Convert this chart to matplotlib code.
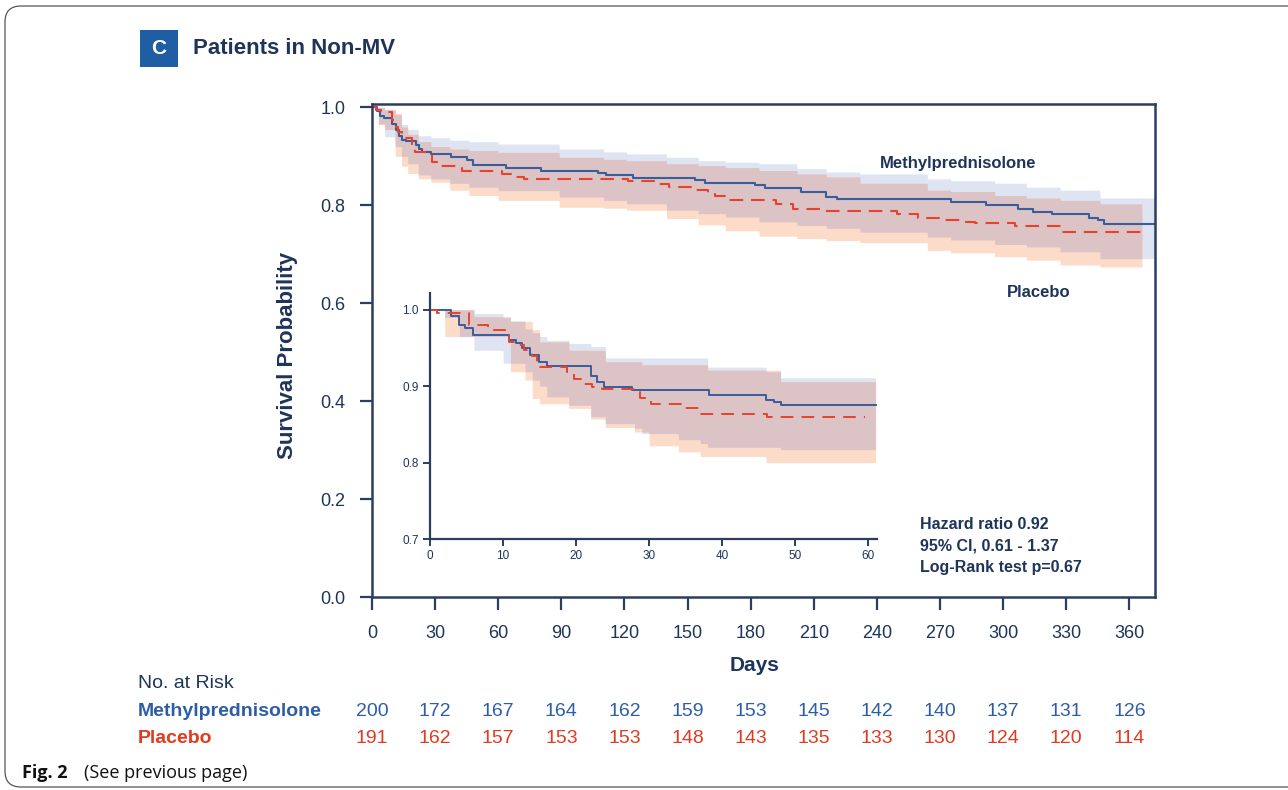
import numpy as np
import matplotlib

matplotlib.use("Agg")

import matplotlib.pyplot as plt
from matplotlib.patches import FancyBboxPatch, Rectangle
from matplotlib.transforms import blended_transform_factory

plt.rcParams["font.family"] = ["Liberation Sans", "DejaVu Sans"]

# ---- main panel: Kaplan-Meier steps ----
mp_days = [0, 2.5, 3.7, 5.7, 9.7, 11.3, 12.9, 14.1, 16.0, 20.8, 22.4, 24.0, 27.9, 37.5,
           45.4, 47.8, 63.7, 80.3, 107.3, 111.3, 124.0, 153.3, 158.1, 181.9, 186.7,
           204, 216, 221, 275, 292, 307, 314, 323, 341, 345, 348]
mp_surv = [1.0, 0.993, 0.983, 0.978, 0.966, 0.953, 0.942, 0.934, 0.931, 0.924, 0.915,
           0.909, 0.904, 0.898, 0.892, 0.883, 0.877, 0.871, 0.866, 0.861, 0.856, 0.851,
           0.845, 0.841, 0.835, 0.827, 0.818, 0.812, 0.807, 0.800, 0.793, 0.786, 0.782,
           0.775, 0.770, 0.761]
mp_last_day = 372

pl_days = [0, 2.0, 4.5, 9.7, 10.5, 12.5, 14.5, 19.2, 20.5, 28.4, 33, 43, 62, 67, 72.4,
           121.5, 135, 141.4, 152.5, 159.7, 163, 168.4, 192.2, 200, 215, 249.4, 259.7,
           270.8, 281.9, 286.7, 305.7, 328]
pl_surv = [1.0, 0.995, 0.99, 0.975, 0.96, 0.95, 0.938, 0.922, 0.909, 0.888, 0.881, 0.870,
           0.863, 0.857, 0.854, 0.849, 0.844, 0.837, 0.831, 0.824, 0.820, 0.810, 0.803,
           0.793, 0.788, 0.782, 0.774, 0.769, 0.766, 0.763, 0.757, 0.746]
pl_last_day = 366

ci_days = [0, 3, 6, 11, 14, 17, 22, 28, 37, 46, 60, 89, 110, 121, 140, 155, 168, 184,
           202, 216, 232, 264, 275, 296, 311, 327, 346]
mp_ci_hi = [1.0, 1.0, 0.995, 0.985, 0.965, 0.955, 0.942, 0.938, 0.933, 0.93, 0.925, 0.915,
            0.909, 0.905, 0.898, 0.891, 0.888, 0.885, 0.875, 0.868, 0.864, 0.854, 0.85,
            0.845, 0.837, 0.831, 0.815]
mp_ci_lo = [1.0, 0.965, 0.94, 0.92, 0.9, 0.885, 0.862, 0.854, 0.845, 0.837, 0.83, 0.817,
            0.81, 0.803, 0.79, 0.783, 0.776, 0.766, 0.759, 0.753, 0.745, 0.735, 0.729,
            0.72, 0.715, 0.705, 0.691]
pl_ci_hi = [1.0, 1.0, 0.995, 0.988, 0.96, 0.945, 0.93, 0.92, 0.915, 0.912, 0.908, 0.898,
            0.894, 0.891, 0.885, 0.881, 0.877, 0.871, 0.864, 0.858, 0.845, 0.831, 0.828,
            0.82, 0.815, 0.81, 0.803]
pl_ci_lo = [1.0, 0.966, 0.955, 0.9, 0.88, 0.865, 0.854, 0.847, 0.831, 0.82, 0.81, 0.796,
            0.794, 0.79, 0.773, 0.76, 0.748, 0.737, 0.732, 0.728, 0.724, 0.708, 0.703,
            0.695, 0.688, 0.678, 0.674]

# ---- inset: first 60 days ----
in_mp_days = [0, 2.8, 3.9, 4.8, 5.9, 10.8, 11.7, 12.6, 13.7, 14.9, 16.0, 22.1, 22.9, 23.8,
              27.7, 38.2, 46.0, 47.1, 48.1]
in_mp_surv = [1.0, 0.992, 0.980, 0.976, 0.967, 0.961, 0.956, 0.950, 0.941, 0.932, 0.926,
              0.914, 0.906, 0.899, 0.895, 0.888, 0.882, 0.879, 0.875]
in_mp_last = 61

in_pl_days = [0, 0.9, 5.3, 8.0, 10.8, 12.1, 12.8, 13.9, 14.6, 18.8, 19.7, 21.0, 22.2, 23.6,
              28.8, 30.2, 34.3, 36.8, 46.2]
in_pl_surv = [1.0, 0.996, 0.980, 0.974, 0.958, 0.954, 0.947, 0.939, 0.925, 0.919, 0.910,
              0.903, 0.899, 0.896, 0.884, 0.877, 0.871, 0.864, 0.860]
in_pl_last = 59.5

in_ci_days = [0, 2, 4, 6, 10, 11, 13, 14, 15, 16, 19, 22, 24, 28, 29, 30, 34, 37, 38, 46, 48]
in_mp_ci_hi = [1.0, 1.0, 1.0, 0.995, 0.99, 0.985, 0.975, 0.97, 0.965, 0.96, 0.956, 0.952,
               0.937, 0.937, 0.937, 0.937, 0.937, 0.937, 0.925, 0.919, 0.911]
in_mp_ci_lo = [1.0, 0.99, 0.965, 0.947, 0.93, 0.93, 0.919, 0.908, 0.9, 0.886, 0.875, 0.86,
               0.851, 0.845, 0.838, 0.838, 0.83, 0.825, 0.82, 0.82, 0.817]
in_pl_ci_hi = [1.0, 1.0, 1.0, 0.991, 0.991, 0.985, 0.985, 0.974, 0.958, 0.958, 0.947, 0.947,
               0.932, 0.932, 0.928, 0.928, 0.928, 0.928, 0.921, 0.921, 0.906]
in_pl_ci_lo = [1.0, 0.965, 0.965, 0.965, 0.965, 0.919, 0.908, 0.884, 0.877, 0.877, 0.871,
               0.857, 0.846, 0.84, 0.84, 0.822, 0.814, 0.808, 0.808, 0.80, 0.80]
in_last_day = 61

# ---- numbers at risk ----
risk_days = [0, 30, 60, 90, 120, 150, 180, 210, 240, 270, 300, 330, 360]
risk_mp = [200, 172, 167, 164, 162, 159, 153, 145, 142, 140, 137, 131, 126]
risk_pl = [191, 162, 157, 153, 153, 148, 143, 135, 133, 130, 124, 120, 114]

stats_lines = ["Hazard ratio 0.92", "95% CI, 0.61 - 1.37", "Log-Rank test p=0.67"]

NAVY = "#1e3459"
SPINE = "#2a3f5f"
MP_LINE = "#3a5d9c"
PL_LINE = "#e5432b"
MP_TEXT = "#2d5ea5"
PL_TEXT = "#e13a20"
LAVENDER = "#dfe4f2"
PEACH = "#fcdcc9"
MAUVE = "#dcc3c5"


def steps(days, values, grid):
    idx = np.searchsorted(days, grid, side="right") - 1
    return np.asarray(values, dtype=float)[idx]


def draw_bands(ax, days, mp_lo, mp_hi, pl_lo, pl_hi, mp_end, pl_end):
    grid = np.linspace(0, mp_end, 4000)
    a_lo, a_hi = steps(days, mp_lo, grid), steps(days, mp_hi, grid)
    b_lo, b_hi = steps(days, pl_lo, grid), steps(days, pl_hi, grid)
    has_pl = grid <= pl_end
    ax.fill_between(grid, a_lo, a_hi, color=LAVENDER, lw=0)
    ax.fill_between(grid, b_lo, b_hi, where=has_pl, color=PEACH, lw=0)
    lo = np.maximum(a_lo, b_lo)
    hi = np.minimum(a_hi, b_hi)
    ax.fill_between(grid, lo, hi, where=has_pl & (hi > lo), color=MAUVE, lw=0)


def draw_curve(ax, days, surv, end, **kw):
    ax.step(list(days) + [end], list(surv) + [surv[-1]], where="post", **kw)


fig = plt.figure(figsize=(12.88, 7.9), dpi=100)

# page frame with rounded corners, open on the right
frame = FancyBboxPatch((0.05, 0.03), 13.5, 7.81, boxstyle="round,pad=0,rounding_size=0.16",
                       transform=fig.dpi_scale_trans, fill=False, ec="#555555", lw=0.9)
fig.add_artist(frame)

# panel letter and title
fig.add_artist(Rectangle((0.1090, 0.9155), 0.0290, 0.0470, transform=fig.transFigure,
                         color="#1f5ea3", lw=0))
fig.text(0.1235, 0.9385, "C", color="white", fontsize=15, fontweight="bold",
         ha="center", va="center")
fig.text(0.1495, 0.9385, "Patients in Non-MV", color=NAVY, fontsize=16,
         fontweight="bold", ha="left", va="center")

# ---- main axes ----
ax = fig.add_axes([0.2888, 0.2443, 0.6083, 0.6241])
draw_bands(ax, ci_days, mp_ci_lo, mp_ci_hi, pl_ci_lo, pl_ci_hi, mp_last_day, pl_last_day)
draw_curve(ax, mp_days, mp_surv, mp_last_day, color=MP_LINE, lw=1.5)
draw_curve(ax, pl_days, pl_surv, pl_last_day, color=PL_LINE, lw=1.5, dashes=(6.5, 3.8))

ax.set_xlim(0, 372.4)
ax.set_ylim(0, 1.007)
ax.set_xticks(risk_days)
ax.set_yticks([0.0, 0.2, 0.4, 0.6, 0.8, 1.0])
ax.set_yticklabels(["0.0", "0.2", "0.4", "0.6", "0.8", "1.0"])
for s in ax.spines.values():
    s.set_color(SPINE)
    s.set_linewidth(1.8)
ax.tick_params(axis="both", direction="out", length=9, width=1.6, color=SPINE,
               labelcolor=NAVY, labelsize=13)
ax.tick_params(axis="x", pad=11)
ax.tick_params(axis="y", pad=10)

ax.text(278.6, 0.886, "Methylprednisolone", color=NAVY, fontsize=12, fontweight="bold",
        ha="center", va="center")
ax.text(316.7, 0.622, "Placebo", color=NAVY, fontsize=12, fontweight="bold",
        ha="center", va="center")
for i, line in enumerate(stats_lines):
    ax.text(260.5, 0.149 - i * 0.044, line, color=NAVY, fontsize=11.5, fontweight="bold",
            ha="left", va="center")

fig.text(0.2236, 0.5506, "Survival Probability", color=NAVY, fontsize=16,
         fontweight="bold", rotation=90, ha="center", va="center")
fig.text(0.5862, 0.1582, "Days", color=NAVY, fontsize=15, fontweight="bold",
         ha="center", va="center")

# ---- inset axes ----
ins = fig.add_axes([0.3339, 0.3177, 0.3470, 0.3114])
ins.patch.set_alpha(0)
draw_bands(ins, in_ci_days, in_mp_ci_lo, in_mp_ci_hi, in_pl_ci_lo, in_pl_ci_hi,
           in_last_day, in_last_day)
draw_curve(ins, in_mp_days, in_mp_surv, in_mp_last, color=MP_LINE, lw=1.4)
draw_curve(ins, in_pl_days, in_pl_surv, in_pl_last, color=PL_LINE, lw=1.4, dashes=(6.5, 4.2))
ins.set_xlim(0, 61.2)
ins.set_ylim(0.7, 1.022)
ins.set_xticks([0, 10, 20, 30, 40, 50, 60])
ins.set_yticks([0.7, 0.8, 0.9, 1.0])
ins.set_yticklabels(["0.7", "0.8", "0.9", "1.0"])
ins.spines["top"].set_visible(False)
ins.spines["right"].set_visible(False)
for side in ("left", "bottom"):
    ins.spines[side].set_color(SPINE)
    ins.spines[side].set_linewidth(1.6)
ins.tick_params(axis="both", direction="out", length=5, width=1.4, color=SPINE,
                labelcolor=NAVY, labelsize=8.5, pad=3)

# ---- numbers at risk ----
trans = blended_transform_factory(ax.transData, fig.transFigure)
fig.text(0.1071, 0.1354, "No. at Risk", color=NAVY, fontsize=14, ha="left", va="center")
fig.text(0.1071, 0.1000, "Methylprednisolone", color=MP_TEXT, fontsize=14,
         fontweight="bold", ha="left", va="center")
fig.text(0.1071, 0.0646, "Placebo", color=PL_TEXT, fontsize=14, fontweight="bold",
         ha="left", va="center")
for d, n_mp, n_pl in zip(risk_days, risk_mp, risk_pl):
    ax.text(d, 0.1000, str(n_mp), transform=trans, color=MP_TEXT, fontsize=14,
            ha="center", va="center", clip_on=False)
    ax.text(d, 0.0646, str(n_pl), transform=trans, color=PL_TEXT, fontsize=14,
            ha="center", va="center", clip_on=False)

# caption
cap = fig.text(0.0171, 0.0215, "Fig. 2", color="#111111", fontsize=13, fontweight="bold",
               family=["Open Sans", "DejaVu Sans"], ha="left", va="center")
fig.text(0.0655, 0.0215, "(See previous page)", color="#111111", fontsize=13,
         family=["Open Sans", "DejaVu Sans"], ha="left", va="center")

fig.savefig("out.png", dpi=100)
